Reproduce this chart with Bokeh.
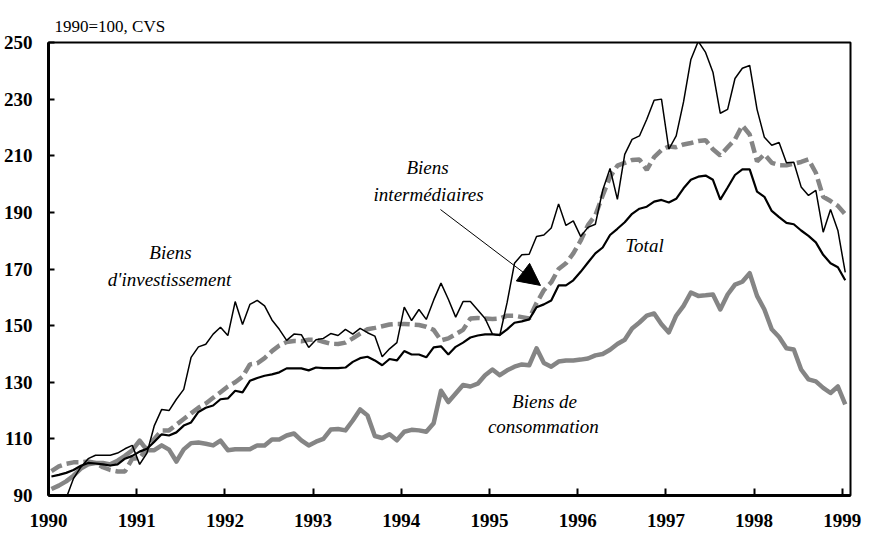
from bokeh.plotting import figure
from bokeh.models import Label, Arrow, NormalHead, FixedTicker, Range1d, ColumnDataSource
from bokeh.embed import file_html
from bokeh.resources import INLINE

# Monthly indices, Jan 1990 .. Jan 1999 (1990=100, CVS)
start_year = 1990
years = list(range(1990, 2000))
y_ticks = [90, 110, 130, 150, 170, 190, 210, 230, 250]

investissement = [
    83, 85, 89, 96, 100, 103, 104.2, 104.2, 104.2, 105, 106.5, 107.7,
    101, 105, 114.7, 120.4, 120, 124, 127.5, 138.8, 142.5, 143.4, 147, 149.4,
    146.5, 158.5, 150.4, 157.5, 158.9, 157, 152, 148.7, 144.8, 147, 146.8, 142.3,
    145, 145.5, 147.2, 146.5, 148.7, 147, 149, 147.5, 146.3, 139, 141.8, 144,
    156.5, 151.8, 155.7, 152.2, 159, 165, 159.3, 153, 158.5, 158.5, 155.5, 152.5,
    147, 146.5, 158.2, 172, 175, 175.2, 181.5, 182, 184.5, 193, 185.4, 187,
    181.5, 184.7, 185.8, 197.8, 205.5, 194.6, 210.5, 215.8, 217, 222.9, 229.6, 230,
    212.3, 217, 229, 244, 250.4, 246.5, 239.5, 225, 226.4, 237.3, 240.9, 241.9,
    226.4, 216.5, 213.7, 214.7, 207.5, 207.7, 199, 196, 197.8, 183, 191, 183.6,
    168.8,
]

total = [
    96.7, 97.3, 98, 99, 100.5, 101.5, 101.3, 101, 100.6, 101, 103, 104,
    105.5, 106.5, 109, 111.6, 111.2, 112.3, 114.7, 115.8, 119.5, 121, 121.8, 124,
    124.3, 127, 126.4, 130.5, 131.5, 132.3, 132.8, 133.5, 134.9, 134.9, 134.9, 134.2,
    135.2, 135, 135, 135, 135.2, 137.2, 138.5, 139, 137.7, 136, 138.2, 137.7,
    141, 139.8, 139.8, 138.8, 142.3, 142.7, 139.8, 142.5, 144, 145.8, 146.5, 146.9,
    146.9, 146.7, 148.7, 151, 151.5, 152.2, 156.5, 157.5, 158.9, 164.2, 164.2, 166,
    169, 172.3, 175.5, 177.6, 182, 184.2, 186.5, 189.5, 191.3, 192, 193.8, 194.4,
    193.5, 194.8, 198.5, 201.5, 202.6, 203, 201.5, 194.5, 198.8, 203.2, 205.2, 205.2,
    197.3, 195.5, 190.5, 188.3, 186.3, 185.8, 183.6, 181.7, 179.4, 175, 172, 170.6,
    166,
]

intermediaires = [
    98.6, 100.3, 101.2, 101.7, 101.7, 102, 101.5, 100, 99, 98.5, 98.5, 103,
    103.2, 106.5, 110, 113, 113, 115, 117, 119, 121, 122.5, 124.5, 126.5,
    128.5, 130, 132, 136.3, 136.7, 138.5, 141, 143, 144.2, 144.6, 144.5, 145,
    145, 144.3, 143.6, 143.5, 144, 145.5, 147.2, 148.7, 149.2, 149.8, 150.4, 150.6,
    150.6, 150.4, 150.2, 149.6, 148.5, 144.8, 145.5, 147, 148.5, 152.5, 152.7, 152.5,
    152.3, 152.5, 153.5, 153.5, 153, 152.5, 158, 162.5, 165.3, 170, 172, 175.5,
    180, 185.5, 189, 196, 202.5, 206.5, 207.5, 208.5, 208.7, 205, 209.5, 212,
    213.3, 213, 214, 214.5, 215.2, 215.5, 212.3, 210.1, 213, 215.8, 220.7, 217.5,
    208, 210.5, 207.5, 206.7, 206.6, 207.2, 207.8, 208.7, 204, 195.5, 194, 192.3,
    189.3,
]

consommation = [
    92.3, 93.5, 95, 97, 99.5, 101, 101.5, 101.5, 101, 102.3, 104, 106,
    109.4, 106, 106, 107.7, 106.2, 102, 106.3, 108.5, 108.7, 108.3, 107.7, 109.4,
    106, 106.3, 106.3, 106.3, 107.7, 107.7, 109.8, 109.8, 111.2, 111.9, 109.5, 107.7,
    109, 110, 113.3, 113.5, 113, 116.5, 120.4, 118.3, 111, 110.3, 111.6, 109.5,
    112.5, 113.2, 113, 112.5, 115.5, 127, 123, 126, 129, 128.5, 129.5, 132.5,
    134.5, 132.5, 134.2, 135.5, 136.3, 136, 142, 136.8, 135.5, 137.3, 137.7, 137.7,
    138, 138.4, 139.5, 140, 141.5, 143.5, 145, 149, 151.1, 153.5, 154.3, 150.5,
    147.6, 153.5, 157, 161.7, 160.5, 160.7, 161, 155.7, 161, 164.5, 165.5, 168.5,
    160.5, 155.7, 148.7, 146, 142, 141.6, 134.5, 131, 130.3, 128, 126.2, 128.5,
    122.2,
]

months = list(range(len(total)))
xs = [start_year + (m + 0.4) / 12.0 for m in months]

src = ColumnDataSource(dict(x=xs, inv=investissement, tot=total,
                            inter=intermediaires, cons=consommation))

SERIF = "Liberation Serif"
GREY = "#858585"

p = figure(width=866, height=535,
           x_range=Range1d(1990, 1999.093), y_range=Range1d(90, 250),
           output_backend="svg", toolbar_location=None,
           min_border_left=48, min_border_right=16,
           min_border_top=42, min_border_bottom=40,
           background_fill_color="white", border_fill_color="white")

p.title.text = "1990=100, CVS"
p.title.text_font = SERIF
p.title.text_font_style = "normal"
p.title.text_font_size = "17px"
p.title.text_color = "black"
p.title.align = "left"
p.title.offset = 6
p.title.standoff = 14

p.xgrid.visible = False
p.ygrid.visible = False
p.outline_line_color = "black"
p.outline_line_width = 2
p.outline_line_alpha = 1

for ax in (p.xaxis[0], p.yaxis[0]):
    ax.axis_line_width = 3
    ax.axis_line_color = "black"
    ax.major_tick_line_width = 2
    ax.major_tick_line_color = "black"
    ax.major_tick_out = 0
    ax.minor_tick_line_color = None
    ax.major_label_text_font = SERIF
    ax.major_label_text_font_style = "bold"
    ax.major_label_text_font_size = "19px"
    ax.major_label_text_color = "black"

p.xaxis.ticker = FixedTicker(ticks=years)
p.xaxis.major_tick_in = 7
p.xaxis.major_label_standoff = 18
p.yaxis.ticker = FixedTicker(ticks=y_ticks)
p.yaxis.major_tick_in = 6
p.yaxis.major_label_standoff = 16

p.line("x", "cons", source=src, line_color=GREY, line_width=4.5, line_join="round")
p.line("x", "inter", source=src, line_color=GREY, line_width=4.5, line_dash="12 5")
p.line("x", "tot", source=src, line_color="black", line_width=2.2)
p.line("x", "inv", source=src, line_color="black", line_width=1.5)

def lab(x, y, t):
    p.add_layout(Label(x=x, y=y, text=t, text_font=SERIF, text_font_style="italic",
                       text_font_size="19px", text_align="center",
                       text_baseline="middle", text_color="black"))

lab(1991.383, 175.9, "Biens")
lab(1991.372, 166.3, "d'investissement")
lab(1994.297, 205.9, "Biens")
lab(1994.31, 196.4, "intermédiaires")
lab(1996.757, 178.3, "Total")
lab(1995.624, 123.2, "Biens de")
lab(1995.61, 114.4, "consommation")

p.add_layout(Arrow(end=NormalHead(size=22, fill_color="black", line_color="black"),
                   x_start=1994.444, y_start=191.0, x_end=1995.578, y_end=164.2,
                   line_color="black", line_width=1))

open("out.html", "w").write(file_html(p, INLINE))
